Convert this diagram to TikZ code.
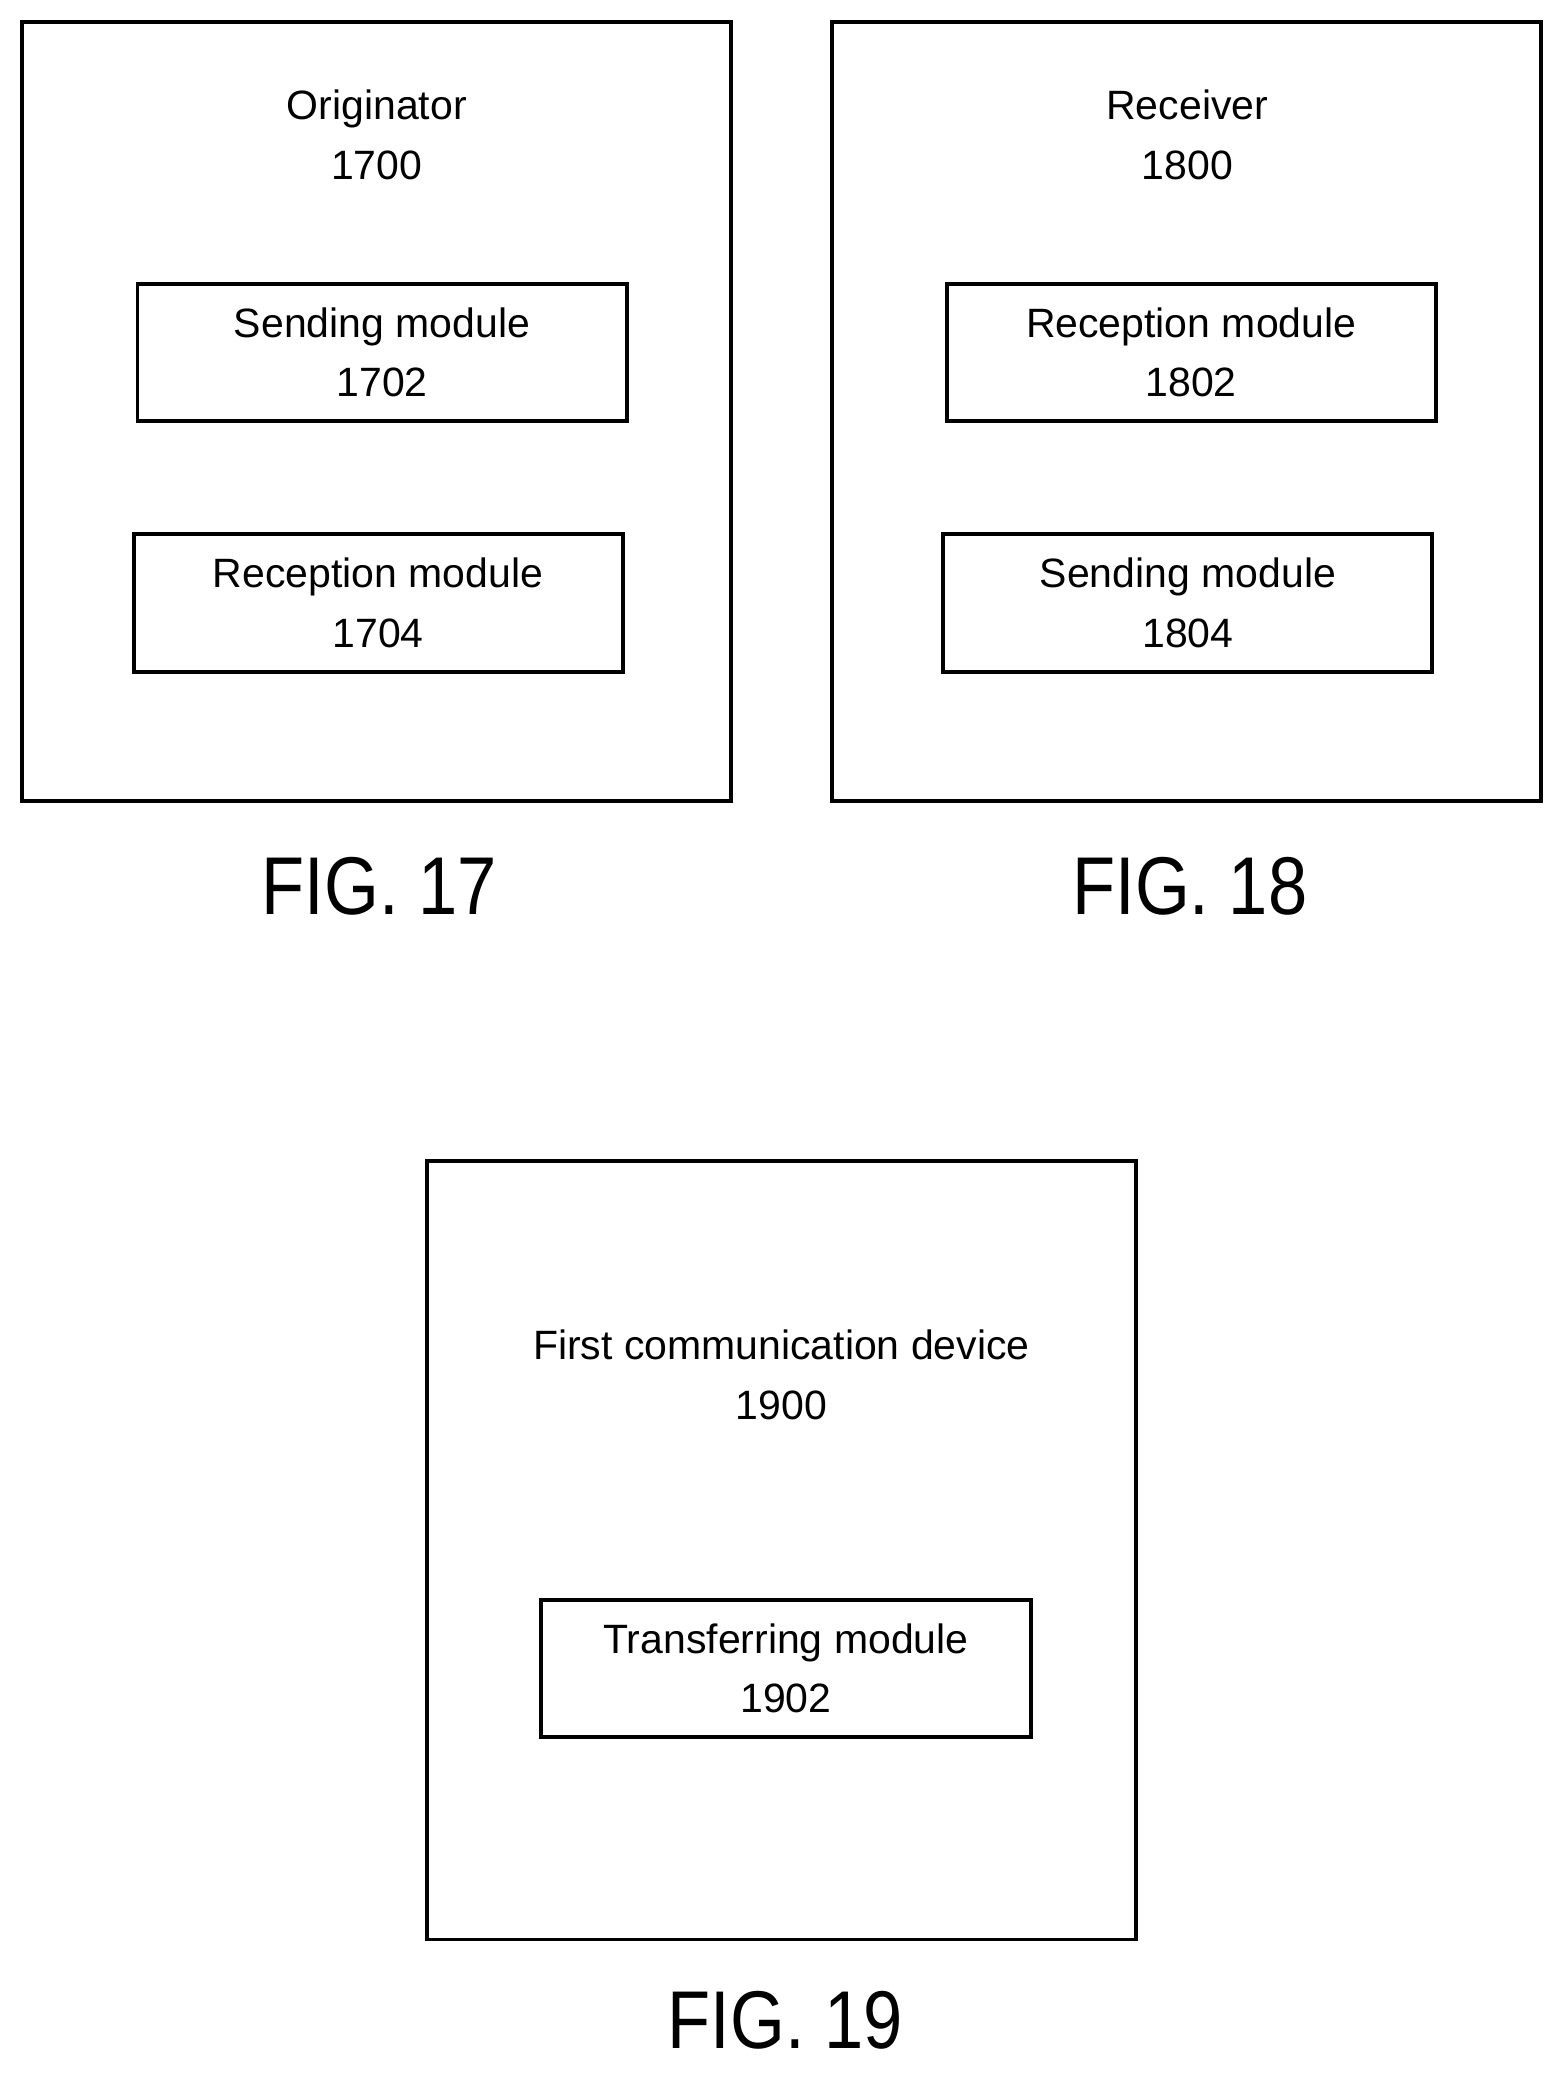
\documentclass[tikz,border=0pt]{standalone}
\usepackage{fontspec}
\setmainfont{Liberation Sans}
\newfontfamily\figfont[FakeStretch=0.86]{Liberation Sans}
\usetikzlibrary{positioning}
\begin{document}
\begin{tikzpicture}[x=0.5pt,y=-0.5pt,
        device/.style={rectangle, draw=black, line width=1.5pt, minimum width=268pt, minimum height=294.5pt},
        module/.style={rectangle, draw=black, line width=1.5pt, minimum width=185pt, minimum height=52pt,
                       align=center, font=\fontsize{15.5}{22.5}\selectfont, inner sep=0pt},
        title/.style={align=center, font=\fontsize{15.5}{22.5}\selectfont},
        figlabel/.style={font=\figfont\fontsize{31}{36}\selectfont}
        ]
        \useasboundingbox (0,0) rectangle (1183,1568);
        % FIG. 17
        \node[device] (ORIG) at (285,311.5) {};
        \node[title]  (ORIGT) at (285,102) {Originator\\1700};
        \node[module] (SEND1) at (289,266.5) {Sending module\\1702};
        \node[module] (RECV1) at (286,456) {Reception module\\1704};
        \node[figlabel] (FIG17) at (287,670) {FIG. 17};
        % FIG. 18
        \node[device] (RCVR) at (897.5,311.5) {};
        \node[title]  (RCVRT) at (898,102) {Receiver\\1800};
        \node[module] (RECV2) at (901,266.5) {Reception module\\1802};
        \node[module] (SEND2) at (898.5,456) {Sending module\\1804};
        \node[figlabel] (FIG18) at (900,670) {FIG. 18};
        % FIG. 19
        \node[device] (COMM) at (591,1172.5) {};
        \node[title]  (COMMT) at (591,1040) {First communication device\\1900};
        \node[module] (TRNS) at (594.5,1262) {Transferring module\\1902};
        \node[figlabel] (FIG19) at (594,1528) {FIG. 19};
\end{tikzpicture}
\end{document}
